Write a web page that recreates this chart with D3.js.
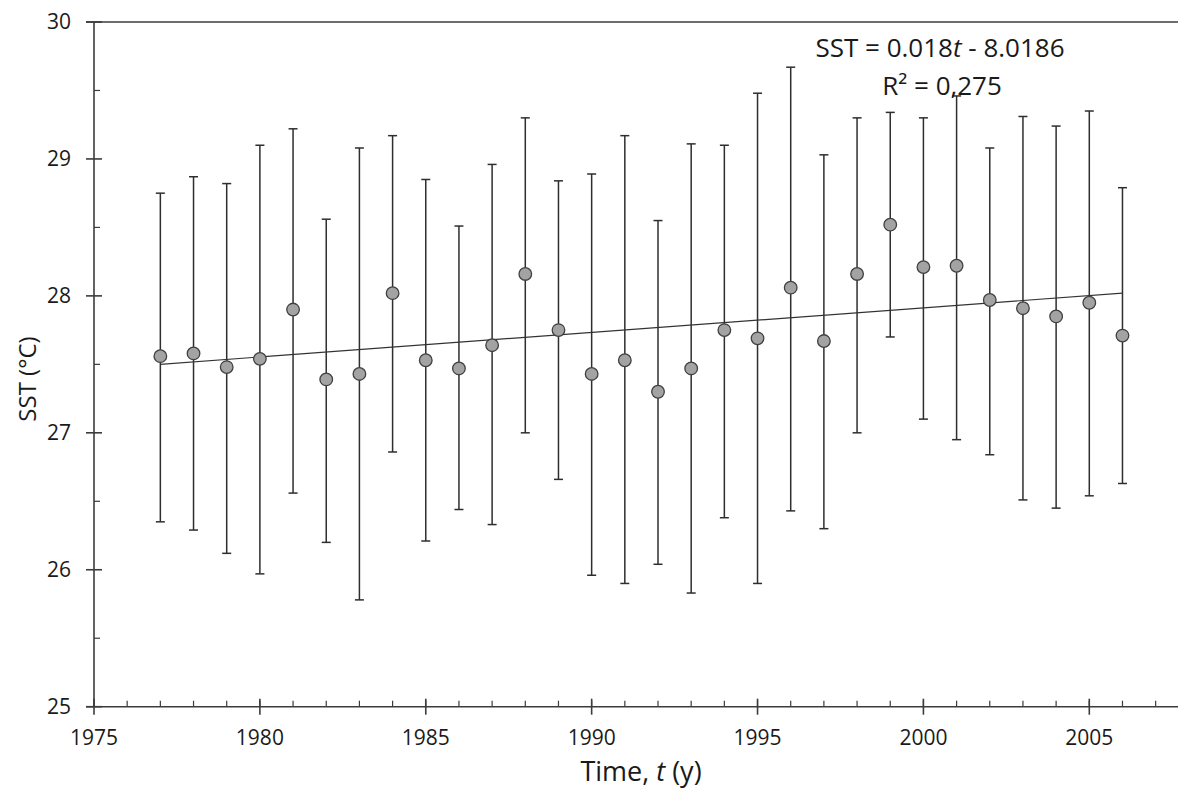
<!DOCTYPE html>
<html>
<head>
<meta charset="utf-8">
<script src="https://cdn.jsdelivr.net/npm/d3@7"></script>
<style>
  html, body { margin: 0; padding: 0; background: #fff; }
  svg { display: block; }
  text { font-family: "Open Sans", "DejaVu Sans", sans-serif; fill: #1a1a1a; }
</style>
</head>
<body>
<svg id="chart" width="1178" height="789"></svg>
<script>
// ---- data ----
const years = [1977,1978,1979,1980,1981,1982,1983,1984,1985,1986,1987,1988,1989,1990,1991,1992,1993,1994,1995,1996,1997,1998,1999,2000,2001,2002,2003,2004,2005,2006];
const sstMean = [27.56,27.58,27.48,27.54,27.90,27.39,27.43,28.02,27.53,27.47,27.64,28.16,27.75,27.43,27.53,27.30,27.47,27.75,27.69,28.06,27.67,28.16,28.52,28.21,28.22,27.97,27.91,27.85,27.95,27.71];
const sstUpper = [28.75,28.87,28.82,29.10,29.22,28.56,29.08,29.17,28.85,28.51,28.96,29.30,28.84,28.89,29.17,28.55,29.11,29.10,29.48,29.67,29.03,29.30,29.34,29.30,29.46,29.08,29.31,29.24,29.35,28.79];
const sstLower = [26.35,26.29,26.12,25.97,26.56,26.20,25.78,26.86,26.21,26.44,26.33,27.00,26.66,25.96,25.90,26.04,25.83,26.38,25.90,26.43,26.30,27.00,27.70,27.10,26.95,26.84,26.51,26.45,26.54,26.63];
const trendX = [1977, 2006];
const trendY = [27.50, 28.02];
const xMajorTicks = [1975,1980,1985,1990,1995,2000,2005];
const xMinorTicks = d3.range(1975, 2009, 1);
const yMajorTicks = [25,26,27,28,29,30];
const yMinorTicks = [25.5,26.5,27.5,28.5,29.5];
const eqLine1 = ["SST = 0.018", "t", " - 8.0186"];
const eqLine2 = "R² = 0,275";
const xTitle = ["Time, ", "t", " (y)"];
const yTitle = "SST (°C)";

// ---- layout ----
const svg = d3.select("#chart");
const x = d3.scaleLinear().domain([1975, 2005]).range([94, 1089.3]);
const y = d3.scaleLinear().domain([25, 30]).range([706.7, 22]);
const axisColor = "#3c3c3c";

// top border line
svg.append("line")
  .attr("x1", 86).attr("x2", 1178)
  .attr("y1", y(30)).attr("y2", y(30))
  .attr("stroke", axisColor).attr("stroke-width", 1.6);

// x axis (minor ticks inside, major crossing)
const xAxisG = svg.append("g").attr("transform", `translate(0,${y(25)})`);
xAxisG.append("line").attr("x1", 86).attr("x2", 1178).attr("y1", 0).attr("y2", 0)
  .attr("stroke", axisColor).attr("stroke-width", 1.6);
xAxisG.selectAll("line.minor").data(xMinorTicks).join("line")
  .attr("class", "minor")
  .attr("x1", d => x(d)).attr("x2", d => x(d))
  .attr("y1", 0).attr("y2", -6)
  .attr("stroke", axisColor).attr("stroke-width", 1.2);
xAxisG.selectAll("line.major").data(xMajorTicks).join("line")
  .attr("class", "major")
  .attr("x1", d => x(d)).attr("x2", d => x(d))
  .attr("y1", -8).attr("y2", 8)
  .attr("stroke", axisColor).attr("stroke-width", 1.6);
xAxisG.selectAll("text").data(xMajorTicks).join("text")
  .attr("x", d => x(d)).attr("y", 38)
  .attr("text-anchor", "middle")
  .style("font-size", "21px")
  .text(d => d);

// y axis
const yAxisG = svg.append("g").attr("transform", `translate(${x(1975)},0)`);
yAxisG.append("line").attr("x1", 0).attr("x2", 0).attr("y1", y(30)).attr("y2", y(25))
  .attr("stroke", axisColor).attr("stroke-width", 1.6);
yAxisG.selectAll("line.minor").data(yMinorTicks).join("line")
  .attr("class", "minor")
  .attr("x1", 0).attr("x2", 6)
  .attr("y1", d => y(d)).attr("y2", d => y(d))
  .attr("stroke", axisColor).attr("stroke-width", 1.2);
yAxisG.selectAll("line.major").data(yMajorTicks).join("line")
  .attr("class", "major")
  .attr("x1", -8).attr("x2", 8)
  .attr("y1", d => y(d)).attr("y2", d => y(d))
  .attr("stroke", axisColor).attr("stroke-width", 1.6);
yAxisG.selectAll("text").data(yMajorTicks).join("text")
  .attr("x", -23).attr("y", d => y(d))
  .attr("dy", "0.35em")
  .attr("text-anchor", "end")
  .style("font-size", "21px")
  .text(d => d);

// data
const pts = years.map((yr, i) => ({yr, m: sstMean[i], hi: sstUpper[i], lo: sstLower[i]}));
const barColor = "#2e2e2e";
const eb = svg.append("g");
eb.selectAll("line.bar").data(pts).join("line")
  .attr("class", "bar")
  .attr("x1", d => x(d.yr)).attr("x2", d => x(d.yr))
  .attr("y1", d => y(d.hi)).attr("y2", d => y(d.lo))
  .attr("stroke", barColor).attr("stroke-width", 1.5);
eb.selectAll("line.capHi").data(pts).join("line")
  .attr("class", "capHi")
  .attr("x1", d => x(d.yr) - 4.5).attr("x2", d => x(d.yr) + 4.5)
  .attr("y1", d => y(d.hi)).attr("y2", d => y(d.hi))
  .attr("stroke", barColor).attr("stroke-width", 1.5);
eb.selectAll("line.capLo").data(pts).join("line")
  .attr("class", "capLo")
  .attr("x1", d => x(d.yr) - 4.5).attr("x2", d => x(d.yr) + 4.5)
  .attr("y1", d => y(d.lo)).attr("y2", d => y(d.lo))
  .attr("stroke", barColor).attr("stroke-width", 1.5);

// trend line
svg.append("path")
  .datum(trendX.map((t, i) => [t, trendY[i]]))
  .attr("d", d3.line().x(d => x(d[0])).y(d => y(d[1])))
  .attr("stroke", "#333").attr("stroke-width", 1.2).attr("fill", "none");

// markers
svg.append("g").selectAll("circle").data(pts).join("circle")
  .attr("cx", d => x(d.yr)).attr("cy", d => y(d.m))
  .attr("r", 6.3)
  .attr("fill", "#a3a3a3")
  .attr("stroke", "#404040").attr("stroke-width", 1.3);

// equation text
const eq1 = svg.append("text").attr("x", 940).attr("y", 57)
  .attr("text-anchor", "middle").style("font-size", "26px");
eq1.append("tspan").text(eqLine1[0]);
eq1.append("tspan").style("font-style", "italic").text(eqLine1[1]);
eq1.append("tspan").text(eqLine1[2]);
svg.append("text").attr("x", 942).attr("y", 95)
  .attr("text-anchor", "middle").style("font-size", "26px")
  .text(eqLine2);

// axis titles
const xt = svg.append("text").attr("x", 641).attr("y", 781)
  .attr("text-anchor", "middle").style("font-size", "27px");
xt.append("tspan").text(xTitle[0]);
xt.append("tspan").style("font-style", "italic").text(xTitle[1]);
xt.append("tspan").text(xTitle[2]);

svg.append("text")
  .attr("transform", `translate(36,379) rotate(-90)`)
  .attr("text-anchor", "middle").style("font-size", "24px")
  .text(yTitle);
</script>
</body>
</html>
